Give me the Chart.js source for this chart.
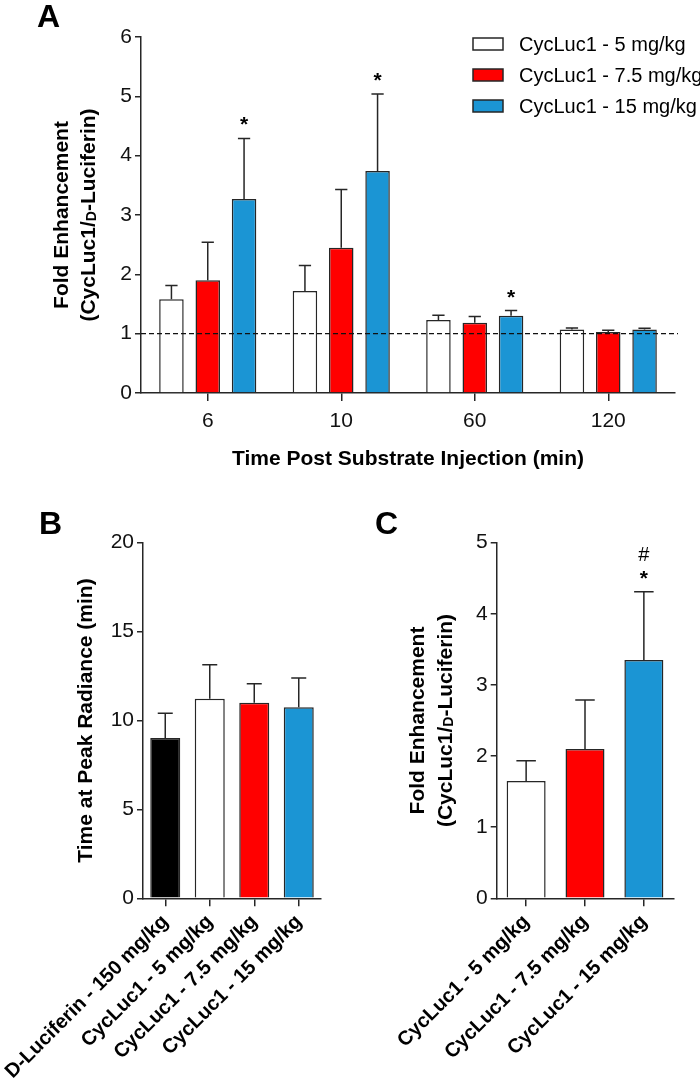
<!DOCTYPE html>
<html>
<head>
<meta charset="utf-8">
<script src="https://cdn.jsdelivr.net/npm/chart.js@4.4.1/dist/chart.umd.min.js"></script>
<style>
body { margin: 0; background: #fff; }
#wrap { position: relative; width: 700px; height: 1080px; }
canvas { position: absolute; }
</style>
</head>
<body>
<div id="wrap">
  <canvas id="chartA" width="700" height="480" style="left:0;top:0"></canvas>
  <canvas id="chartB" width="350" height="600" style="left:0;top:480px"></canvas>
  <canvas id="chartC" width="350" height="600" style="left:350px;top:480px"></canvas>
</div>
<script>
// panel A: fold enhancement vs time
var timeLabels = ['6', '10', '60', '120'];
var seriesNames = ['CycLuc1 - 5 mg/kg', 'CycLuc1 - 7.5 mg/kg', 'CycLuc1 - 15 mg/kg'];
var dose5 = [1.58, 1.72, 1.23, 1.07];
var dose5Err = [0.23, 0.43, 0.08, 0.025];
var dose75 = [1.90, 2.45, 1.185, 1.03];
var dose75Err = [0.64, 0.98, 0.105, 0.026];
var dose15 = [3.27, 3.74, 1.30, 1.07];
var dose15Err = [1.02, 1.30, 0.09, 0.02];
var dose15Star = ['*', '*', '*', ''];

// panel B: time at peak radiance
var bLabels = ['D-Luciferin - 150 mg/kg', 'CycLuc1 - 5 mg/kg', 'CycLuc1 - 7.5 mg/kg', 'CycLuc1 - 15 mg/kg'];
var bValues = [9.02, 11.23, 11.0, 10.74];
var bErr = [1.39, 1.91, 1.07, 1.65];

// panel C: overall fold enhancement
var cLabels = ['CycLuc1 - 5 mg/kg', 'CycLuc1 - 7.5 mg/kg', 'CycLuc1 - 15 mg/kg'];
var cValues = [1.65, 2.10, 3.35];
var cErr = [0.285, 0.69, 0.96];
var cStar = ['', '', '*'];
var cHash = ['', '', '#'];

var FONT = "'Liberation Sans', Arial, Helvetica, sans-serif";
var WHITE = '#ffffff', RED = '#ff0000', BLUE = '#1b95d4', BLACK = '#000000';
var LINE = '#262626';

function rotTitle(ctx, cx, cy, parts) {
  ctx.save();
  ctx.translate(cx, cy);
  ctx.rotate(-Math.PI / 2);
  var total = 0;
  parts.forEach(function (p) {
    ctx.font = 'bold ' + p[1] + 'px ' + FONT;
    total += ctx.measureText(p[0]).width;
  });
  var x = -total / 2;
  ctx.textAlign = 'left';
  ctx.textBaseline = 'alphabetic';
  ctx.fillStyle = '#000';
  parts.forEach(function (p) {
    ctx.font = 'bold ' + p[1] + 'px ' + FONT;
    ctx.fillText(p[0], x, 7.5 + (p[2] || 0));
    x += ctx.measureText(p[0]).width;
  });
  ctx.restore();
}

function panelLetter(ctx, txt, x, y) {
  ctx.save();
  ctx.font = 'bold 32px ' + FONT;
  ctx.fillStyle = '#000';
  ctx.textAlign = 'left';
  ctx.textBaseline = 'alphabetic';
  ctx.fillText(txt, x, y);
  ctx.restore();
}

// error bars (upper only) and significance marks
function drawErrors(chart) {
  var ctx = chart.ctx, ys = chart.scales.y;
  ctx.save();
  ctx.strokeStyle = LINE;
  ctx.lineWidth = 1.5;
  ctx.fillStyle = '#000';
  ctx.textAlign = 'center';
  ctx.textBaseline = 'alphabetic';
  chart.data.datasets.forEach(function (ds, i) {
    var meta = chart.getDatasetMeta(i);
    meta.data.forEach(function (bar, j) {
      var top = ys.getPixelForValue(ds.data[j] + ds.errs[j]);
      var half = bar.width * 0.25;
      ctx.beginPath();
      ctx.moveTo(bar.x, bar.y);
      ctx.lineTo(bar.x, top);
      ctx.moveTo(bar.x - half, top);
      ctx.lineTo(bar.x + half, top);
      ctx.stroke();
      ctx.font = 'bold 21px ' + FONT;
      if (ds.stars && ds.stars[j]) ctx.fillText(ds.stars[j], bar.x, top - 7);
      ctx.font = '20px ' + FONT;
      if (ds.hash && ds.hash[j]) ctx.fillText(ds.hash[j], bar.x, top - 31);
    });
  });
  ctx.restore();
}

function yAxis(max, step, width) {
  return {
    min: 0, max: max,
    afterFit: function (s) { s.width = width; },
    border: { display: true, color: LINE, width: 1.5 },
    grid: { display: true, drawOnChartArea: false, drawTicks: true, tickLength: 6, color: LINE, lineWidth: 1.5 },
    ticks: { stepSize: step, padding: 3, color: '#111', font: { family: FONT, size: 21 } }
  };
}

var aDeco = {
  id: 'aDeco',
  afterDatasetsDraw: function (chart) {
    var ctx = chart.ctx, ca = chart.chartArea, ys = chart.scales.y;
    // reference line at 1
    ctx.save();
    ctx.strokeStyle = '#111';
    ctx.lineWidth = 1.3;
    ctx.setLineDash([5, 3]);
    ctx.beginPath();
    ctx.moveTo(ca.left, ys.getPixelForValue(1));
    ctx.lineTo(ca.right + 3, ys.getPixelForValue(1));
    ctx.stroke();
    ctx.restore();
    drawErrors(chart);
  },
  afterDraw: function (chart) {
    var ctx = chart.ctx, ca = chart.chartArea;
    panelLetter(ctx, 'A', 37, 27);
    rotTitle(ctx, 60, (ca.top + ca.bottom) / 2, [['Fold Enhancement', 21]]);
    rotTitle(ctx, 87, (ca.top + ca.bottom) / 2, [['(CycLuc1/', 21], ['D', 14, 1], ['-Luciferin)', 21]]);
    // legend
    ctx.save();
    chart.data.datasets.forEach(function (ds, i) {
      var bx = ca.right - 202, cy = ca.top + 7 + i * 31;
      ctx.fillStyle = ds.backgroundColor;
      ctx.fillRect(bx, cy - 6, 30, 12);
      ctx.strokeStyle = LINE;
      ctx.lineWidth = 1.5;
      ctx.strokeRect(bx, cy - 6, 30, 12);
      ctx.fillStyle = '#000';
      ctx.font = '20px ' + FONT;
      ctx.textAlign = 'left';
      ctx.textBaseline = 'middle';
      ctx.fillText(ds.label, bx + 46, cy + 1);
    });
    ctx.restore();
  }
};

new Chart(document.getElementById('chartA'), {
  type: 'bar',
  data: {
    labels: timeLabels,
    datasets: [
      { label: seriesNames[0], data: dose5, errs: dose5Err, backgroundColor: WHITE },
      { label: seriesNames[1], data: dose75, errs: dose75Err, backgroundColor: RED },
      { label: seriesNames[2], data: dose15, errs: dose15Err, stars: dose15Star, backgroundColor: BLUE }
    ]
  },
  options: {
    responsive: false,
    animation: false,
    devicePixelRatio: 1,
    layout: { padding: { left: 0, right: 25, top: 37, bottom: 0 } },
    datasets: { bar: { categoryPercentage: 0.816, barPercentage: 0.675, borderColor: LINE, borderWidth: 1.5 } },
    plugins: { legend: { display: false }, tooltip: { enabled: false } },
    scales: {
      x: {
        afterFit: function (s) { s.height = 87; s.paddingLeft = 0; s.paddingRight = 0; },
        border: { display: true, color: LINE, width: 1.5 },
        grid: { display: true, offset: false, drawOnChartArea: false, tickLength: 8, color: LINE, lineWidth: 1.5 },
        ticks: { padding: 8, color: '#111', font: { family: FONT, size: 21 } },
        title: { display: true, text: 'Time Post Substrate Injection (min)', color: '#000',
                 font: { family: FONT, size: 21, weight: 'bold' }, padding: { top: 0, bottom: 8 } }
      },
      y: yAxis(6, 1, 141)
    }
  },
  plugins: [aDeco]
});

function smallPanel(id, labels, values, errs, colors, max, step, yWidth, rightPad, extra) {
  var ds = { data: values, errs: errs, backgroundColor: colors };
  if (extra) { ds.stars = extra.stars; ds.hash = extra.hash; }
  return new Chart(document.getElementById(id), {
    type: 'bar',
    data: { labels: labels, datasets: [ds] },
    options: {
      responsive: false,
      animation: false,
      devicePixelRatio: 1,
      layout: { padding: { left: 0, right: rightPad, top: 62.7, bottom: 0 } },
      datasets: { bar: { categoryPercentage: 0.8, barPercentage: extra ? 0.828 : 0.843, borderColor: LINE, borderWidth: 1.5 } },
      plugins: { legend: { display: false }, tooltip: { enabled: false } },
      scales: {
        x: {
          afterFit: function (s) { s.height = 181.7; s.paddingLeft = 0; s.paddingRight = 0; },
          border: { display: true, color: LINE, width: 1.5 },
          grid: { display: true, offset: false, drawOnChartArea: false, tickLength: 8, color: LINE, lineWidth: 1.5 },
          ticks: { padding: 4, minRotation: 45, maxRotation: 45, color: '#000',
                   font: { family: FONT, size: 20, weight: 'bold' } }
        },
        y: yAxis(max, step, yWidth)
      }
    },
    plugins: [{
      id: 'deco' + id,
      afterDatasetsDraw: function (chart) { drawErrors(chart); },
      afterDraw: function (chart) {
        var ctx = chart.ctx, ca = chart.chartArea, mid = (ca.top + ca.bottom) / 2;
        if (id === 'chartB') {
          panelLetter(ctx, 'B', 39, 54);
          rotTitle(ctx, 84, mid, [['Time at Peak Radiance (min)', 21]]);
        } else {
          panelLetter(ctx, 'C', 25, 54);
          rotTitle(ctx, 66, mid, [['Fold Enhancement', 21]]);
          rotTitle(ctx, 94, mid, [['(CycLuc1/', 21], ['D', 14, 1], ['-Luciferin)', 21]]);
        }
      }
    }]
  });
}

smallPanel('chartB', bLabels, bValues, bErr, [BLACK, WHITE, RED, BLUE], 20, 5, 143, 29);
smallPanel('chartC', cLabels, cValues, cErr, [WHITE, RED, BLUE], 5, 1, 146.7, 26.7, { stars: cStar, hash: cHash });
</script>
</body>
</html>
